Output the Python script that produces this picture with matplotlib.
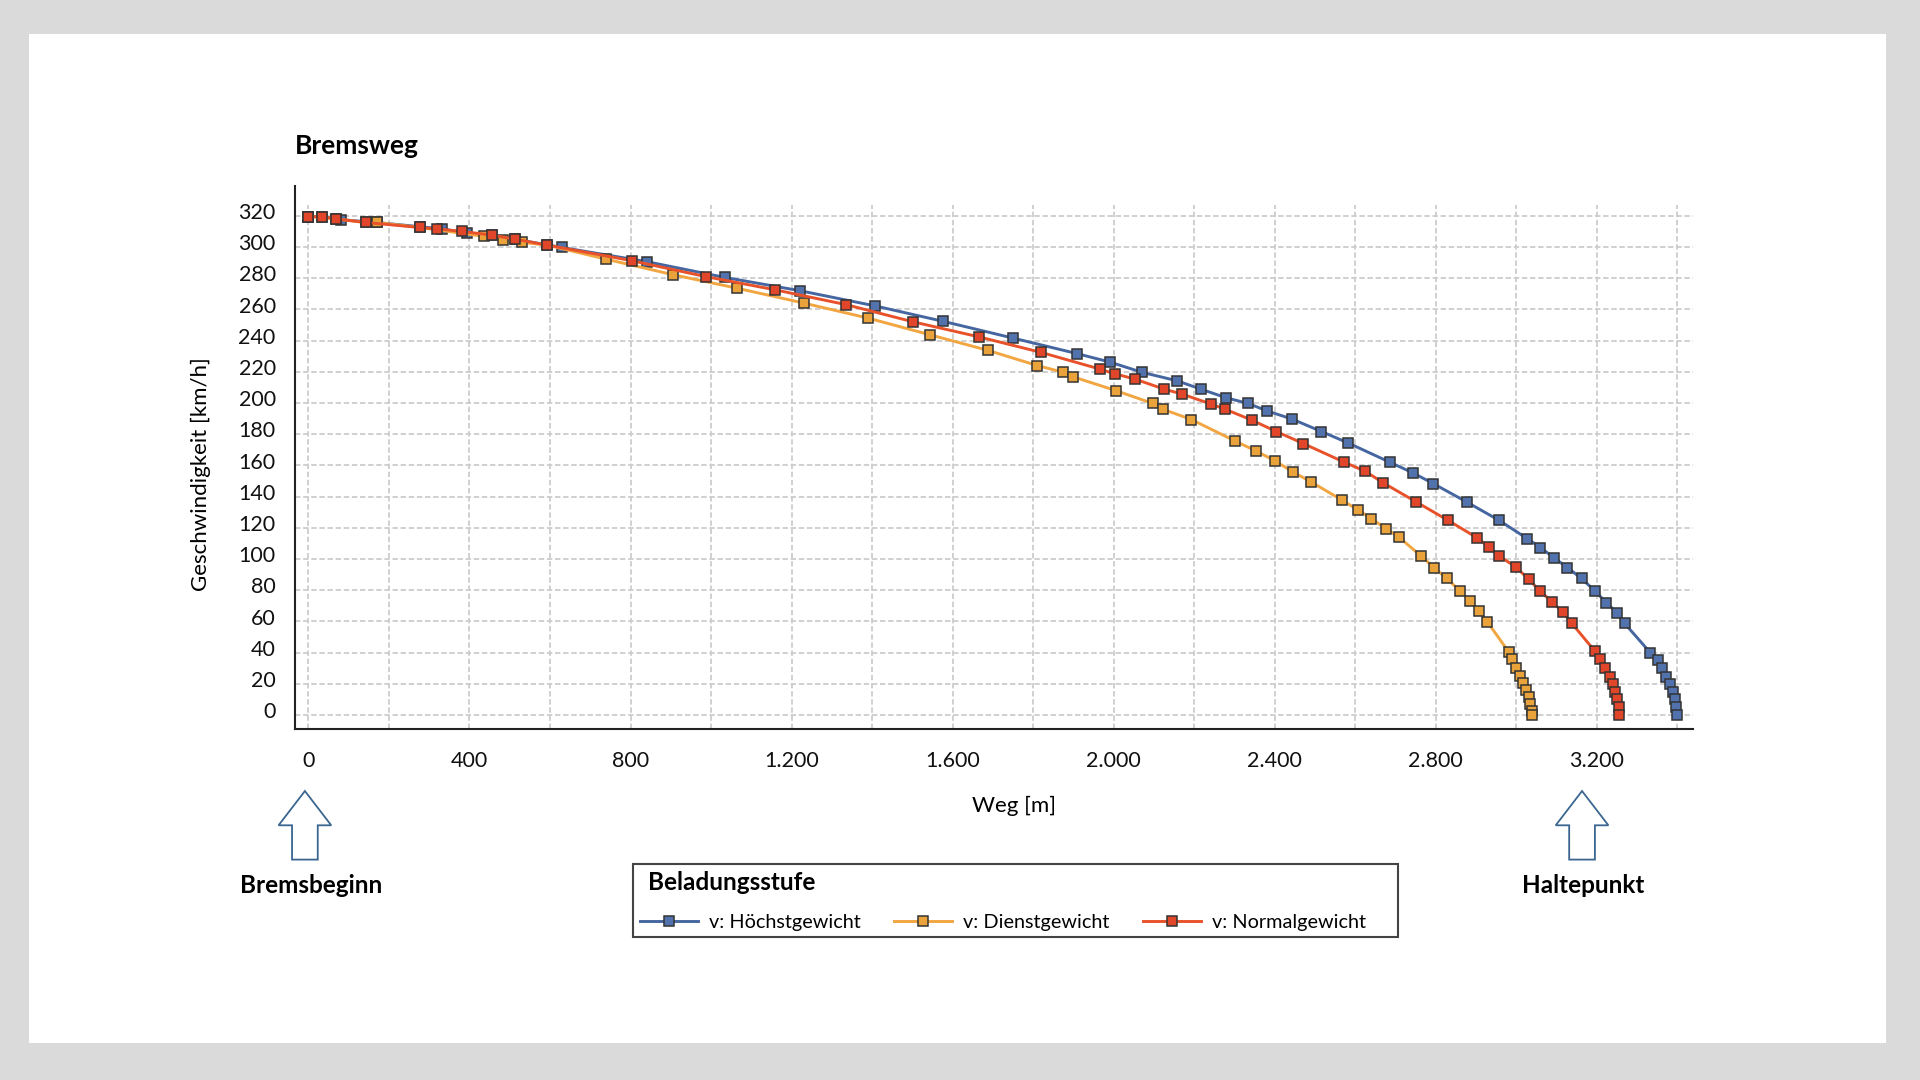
#!/usr/bin/env python3
"""Bremsweg: speed over braking distance for three load levels."""

import matplotlib

matplotlib.use("Agg")

import matplotlib.pyplot as plt
import matplotlib.transforms as mtransforms
from matplotlib.lines import Line2D
from matplotlib.patches import Polygon, Rectangle

plt.rcParams["font.family"] = ["Lato", "DejaVu Sans"]

# --- data ----------------------------------------------------------------
hoechst_x = [0, 35, 80, 170, 331, 393, 455, 513, 629, 842, 1034, 1222, 1406,
             1577, 1750, 1908, 1991, 2071, 2158, 2216, 2280, 2334, 2380, 2444,
             2516, 2583, 2686, 2744, 2794, 2877, 2957, 3027, 3060, 3093, 3127,
             3162, 3195, 3224, 3250, 3269, 3333, 3352, 3363, 3373, 3381, 3390,
             3394, 3397, 3398]
hoechst_v = [319.5, 319.4, 317.5, 315.7, 311.6, 309, 307.6, 305, 299.7, 290.5,
             280.5, 271.9, 262.3, 252.3, 241.6, 231.7, 226.2, 219.6, 214.2,
             208.9, 203.3, 199.7, 195, 189.6, 181.7, 174.3, 162, 155.1, 148.3,
             136.5, 124.8, 113.1, 107.3, 100.9, 94.5, 87.5, 79.6, 71.9, 65.5,
             58.7, 39.9, 35.2, 29.9, 24.5, 19.9, 15, 10, 5.4, 0]

dienst_x = [0, 68, 142, 170, 276, 436, 484, 530, 593, 739, 906, 1064, 1231,
            1390, 1544, 1688, 1810, 1873, 1899, 2007, 2097, 2122, 2193, 2301,
            2353, 2400, 2446, 2491, 2568, 2608, 2640, 2676, 2708, 2763, 2796,
            2827, 2860, 2884, 2907, 2928, 2981, 2990, 2998, 3008, 3017, 3025,
            3032, 3035, 3038, 3040]
dienst_v = [319.5, 318, 315.7, 315.7, 312.5, 306.8, 304.4, 303, 301.2, 292.2,
            282.2, 273.6, 264, 254.4, 243.7, 233.7, 224, 219.8, 216.8, 207.8,
            199.7, 196, 189.4, 175.7, 169.3, 163, 155.7, 149.3, 137.6, 131.2,
            125.9, 119.5, 114.1, 102, 94.5, 87.5, 79.6, 73.2, 66.8, 59.7, 40.5,
            35.6, 29.9, 25, 20.7, 16, 11.3, 7, 2.8, 0]

normal_x = [0, 35, 68, 142, 276, 319, 381, 455, 513, 593, 803, 987, 1158,
            1336, 1502, 1665, 1820, 1966, 2003, 2053, 2125, 2170, 2242, 2277,
            2343, 2404, 2471, 2573, 2625, 2670, 2752, 2830, 2902, 2932, 2958,
            2998, 3031, 3059, 3089, 3116, 3138, 3195, 3209, 3220, 3232, 3240,
            3245, 3250, 3254, 3255]
normal_v = [319.5, 319.4, 318, 315.7, 312.5, 311.6, 310, 307.6, 305, 301.2,
            291.2, 281, 272.6, 263, 252, 242.4, 232.4, 221.7, 218.7, 215.3,
            208.9, 205.7, 199.3, 196, 189, 181.7, 174, 162, 156.2, 148.7, 136.5,
            124.8, 113.7, 107.7, 101.8, 95, 87, 79.4, 72.5, 65.7, 58.7, 41,
            35.6, 29.9, 24.5, 19.9, 15, 10, 5.4, 0]

series_labels = ["v: Höchstgewicht", "v: Dienstgewicht", "v: Normalgewicht"]
x_ticks = list(range(0, 3401, 200))
x_tick_labels = ["0", "", "400", "", "800", "", "1.200", "", "1.600", "",
                 "2.000", "", "2.400", "", "2.800", "", "3.200", ""]
y_ticks = list(range(0, 321, 20))

# --- styling -------------------------------------------------------------
W, H = 1568.0, 882.0  # layout positions below are measured on this canvas


def fx(px):
    return px / W


def fy(py):
    return 1.0 - py / H


styles = [
    dict(color="#4566a0", mfc="#5272ad"),
    dict(color="#f2a641", mfc="#e9a33a"),
    dict(color="#e8522a", mfc="#e2462a"),
]
grid_kw = dict(color="#cdcdcd", linestyle=(0, (3, 1.5)), linewidth=1.3)

fig = plt.figure(figsize=(19.2, 10.8), dpi=100, facecolor="#dadada")

# white card behind everything
fig.patches.append(Rectangle((fx(24), fy(852)), fx(1540) - fx(24), fy(28) - fy(852),
                             transform=fig.transFigure, facecolor="white",
                             edgecolor="none", zorder=-10))

ax = fig.add_axes([fx(241), fy(595), fx(1383) - fx(241), fy(152) - fy(595)])
ax.set_facecolor("none")
ax.set_zorder(1)

for (xs, vs), st in zip([(hoechst_x, hoechst_v), (dienst_x, dienst_v),
                         (normal_x, normal_v)], styles):
    ax.plot(xs, vs, "-s", color=st["color"], linewidth=2.1, markersize=7.5,
            markerfacecolor=st["mfc"], markeredgecolor="#333333",
            markeredgewidth=1.1, zorder=3)

ax.set_xlim(-33, 3440)
ax.set_ylim(-8.7, 339)
ax.set_xticks(x_ticks)
ax.set_xticklabels(x_tick_labels)
ax.set_yticks(y_ticks)
ax.tick_params(axis="both", length=0, labelsize=15.5, colors="#111111")
ax.tick_params(axis="x", pad=16)
ax.tick_params(axis="y", pad=14)
ax.grid(True, axis="y", zorder=1, **grid_kw)
ax.vlines(x_ticks, -8.7, 327, zorder=1, **grid_kw)
ax.set_axisbelow(True)
for side in ("top", "right"):
    ax.spines[side].set_visible(False)
for side in ("left", "bottom"):
    ax.spines[side].set_color("#222222")
    ax.spines[side].set_linewidth(1.5)

# y labels sit a little above their grid lines in the original
lift = mtransforms.ScaledTranslation(0, 3.5 / 72, fig.dpi_scale_trans)
for lab in ax.get_yticklabels():
    lab.set_transform(lab.get_transform() + lift)

fig.text(fx(241), fy(119), "Bremsweg", fontsize=19, fontweight="bold",
         ha="left", va="center")
fig.text(fx(828), fy(658), "Weg [m]", fontsize=16, ha="center", va="center")
fig.text(fx(164), fy(387), "Geschwindigkeit [km/h]", fontsize=16,
         rotation=90, ha="center", va="center")


def up_arrow(cx):
    top, neck, bottom = 646, 674, 702
    head, shaft = 21.5, 10.5
    pts = [(cx, top), (cx + head, neck), (cx + shaft, neck), (cx + shaft, bottom),
           (cx - shaft, bottom), (cx - shaft, neck), (cx - head, neck)]
    fig.patches.append(Polygon([(fx(a), fy(b)) for a, b in pts], closed=True,
                               transform=fig.transFigure, facecolor="white",
                               edgecolor="#3a6690", linewidth=1.3, zorder=2))


up_arrow(249)
up_arrow(1292)
fig.text(fx(254), fy(723), "Bremsbeginn", fontsize=17.5, fontweight="bold",
         ha="center", va="center")
fig.text(fx(1293), fy(723), "Haltepunkt", fontsize=17.5, fontweight="bold",
         ha="center", va="center")

# legend: frame and title drawn separately so the entries keep their spacing
fig.patches.append(Rectangle((fx(517), fy(765)), fx(1142) - fx(517), fy(706) - fy(765),
                             transform=fig.transFigure, facecolor="white",
                             edgecolor="#444444", linewidth=1.5, zorder=2))
fig.text(fx(529), fy(721), "Beladungsstufe", fontsize=17.5, fontweight="bold",
         ha="left", va="center", zorder=3)
handles = [Line2D([], [], color=st["color"], linewidth=2.1, marker="s",
                  markersize=7.5, markerfacecolor=st["mfc"],
                  markeredgecolor="#333333", markeredgewidth=1.1)
           for st in styles]
leg = fig.legend(handles, series_labels, loc="center left",
                 bbox_to_anchor=(fx(523), fy(753)), ncol=3, fontsize=14.3,
                 frameon=False, borderpad=0, borderaxespad=0,
                 handlelength=2.9, handletextpad=0.55, columnspacing=1.7)
leg.set_zorder(4)

fig.savefig("out.png", dpi=100, facecolor=fig.get_facecolor())
